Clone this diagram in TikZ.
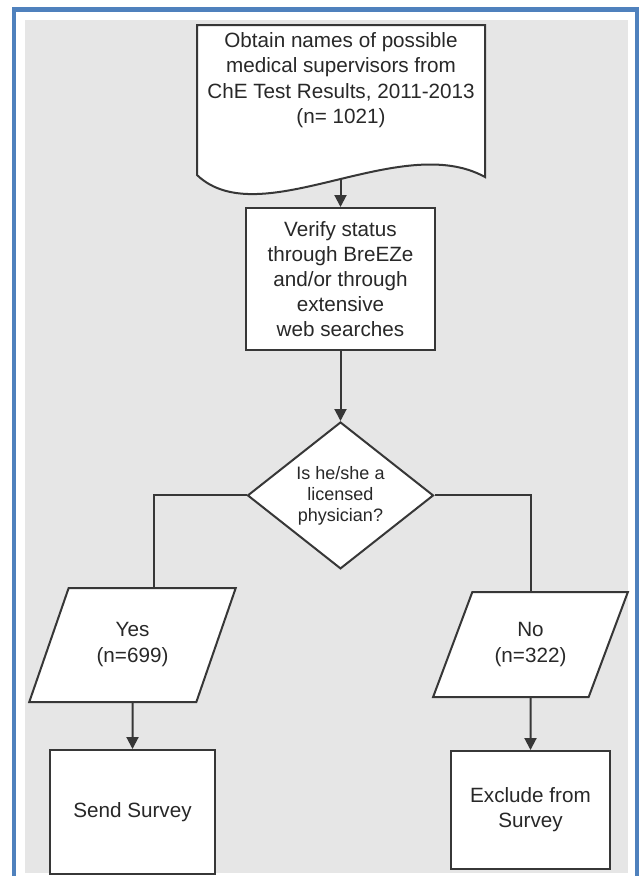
\documentclass[tikz,border=0pt]{standalone}
\usepackage{fontspec}
\setmainfont{Liberation Sans}
\usepackage{tikz}
\usetikzlibrary{shapes.geometric, arrows.meta, positioning}
\definecolor{cFrame}{RGB}{79,129,189}
\definecolor{cPanel}{RGB}{230,230,230}
\definecolor{cLine}{RGB}{55,55,55}
\definecolor{cText}{RGB}{40,40,40}
\tikzset{
    doctext/.style  ={align=center, text=cText, font=\fontsize{15.5}{19}\selectfont},
    process/.style  ={rectangle, align=center, draw=cLine, fill=white, line width=1.5pt, text=cText, font=\fontsize{15.5}{18.75}\selectfont},
    io/.style       ={trapezium, trapezium stretches=true, align=center, draw=cLine, fill=white, line width=1.5pt, text=cText, font=\fontsize{15.5}{19.5}\selectfont},
    decision/.style ={diamond, align=center, inner sep=0pt, draw=cLine, fill=white, line width=1.5pt, text=cText, font=\fontsize{13.5}{15.75}\selectfont},
    flowarrow/.style={-{Triangle[length=9pt, width=9pt]}, line width=1.5pt, draw=cLine},
    elbow/.style    ={line width=1.5pt, draw=cLine},
}

\begin{document}
\begin{tikzpicture}[x=0.75pt, y=-0.75pt]
    \useasboundingbox (0,0) rectangle (639,876);
    \clip (0,0) rectangle (639,876);
    % frame and grey panel
    \draw[cFrame, line width=3.4pt] (14,9.5) rectangle (637,890);
    \fill[cPanel] (25,20) rectangle (628,873);

    % document shape with wavy bottom
    \filldraw[fill=white, draw=cLine, line width=1.5pt] (197,25) -- (485,25) -- (485,177)
        .. controls (400,130) and (260,235) .. (197,175) coordinate[pos=0.47] (src-tip) -- cycle;
    \node[doctext] (src) at (341,80) {Obtain names of possible\\ medical supervisors from\\ ChE Test Results, 2011-2013\\ (n= 1021)};

    \node[process, minimum width=141.75pt, minimum height=106.5pt] (verify) at (340.5,279) {Verify status\\ through BreEZe\\ and/or through\\ extensive\\ web searches};
    \node[decision, minimum width=139.5pt, minimum height=105pt, below=52.5pt of verify] (check) {Is he/she a\\ licensed\\ physician?};

    \node[io, trapezium left angle=65, trapezium right angle=115, minimum width=155.25pt, minimum height=85.5pt] (yes) at (132.5,645) {Yes\\ (n=699)};
    \node[io, trapezium left angle=63, trapezium right angle=117, minimum width=146.25pt, minimum height=78.75pt] (no) at (530.5,644.5) {No\\ (n=322)};
    \node[process, minimum width=123.75pt, minimum height=93pt, below=34.5pt of yes] (send) {Send Survey};
    \node[process, minimum width=119.25pt, minimum height=88.5pt, below=39pt of no] (excl) {Exclude from\\ Survey};

    \draw[flowarrow] (verify.north |- src-tip) -- (verify.north);
    \draw[flowarrow] (verify) -- (check);
    \draw[elbow] (check.west) -| ([xshift=16pt]yes.north);
    \draw[elbow] (check.east) -| (no.north);
    \draw[flowarrow] (yes) -- (send);
    \draw[flowarrow] (no) -- (excl);
\end{tikzpicture}
\end{document}
